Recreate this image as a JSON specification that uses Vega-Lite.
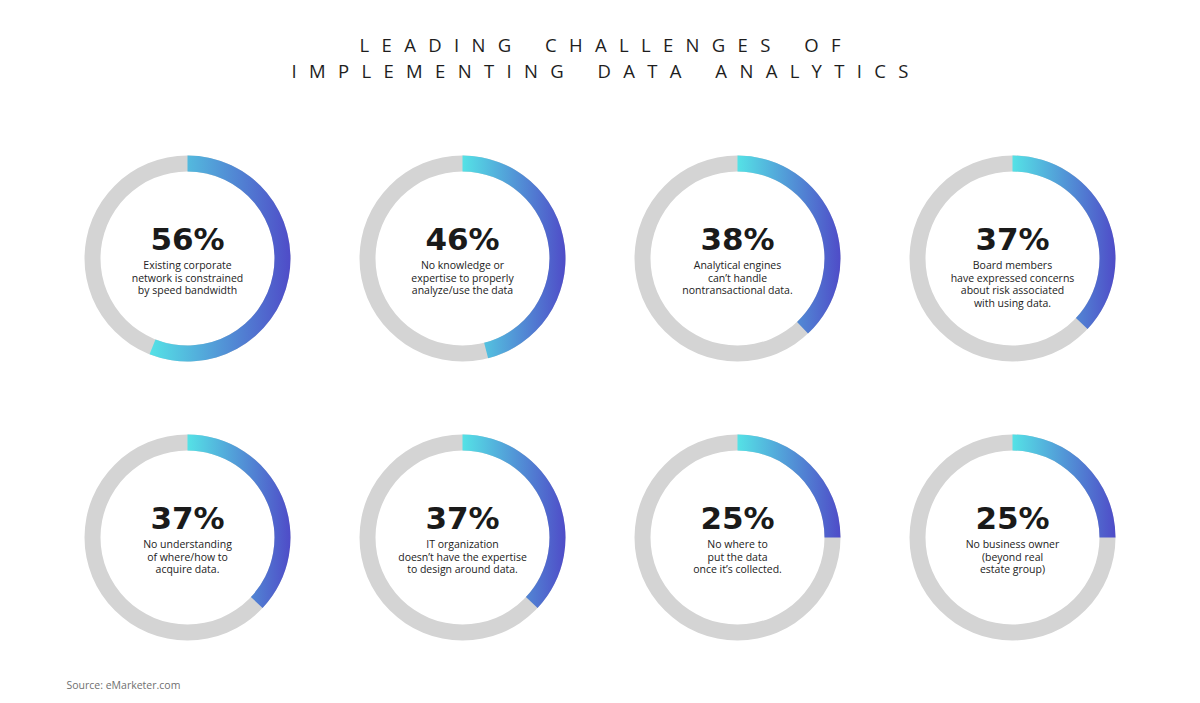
{
  "$schema": "https://vega.github.io/schema/vega-lite/v6.json",
  "width": 1200,
  "height": 613,
  "autosize": {"type": "none"},
  "padding": {"top": 90, "left": 0, "right": 0, "bottom": 0},
  "background": "white",
  "config": {"view": {"stroke": null}},
  "title": {
    "text": [
      "L\u2002\u2009E\u2002\u2009A\u2002\u2009D\u2002\u2009I\u2002\u2009N\u2002\u2009G\u2002\u2009\u2003\u2009C\u2002\u2009H\u2002\u2009A\u2002\u2009L\u2002\u2009L\u2002\u2009E\u2002\u2009N\u2002\u2009G\u2002\u2009E\u2002\u2009S\u2002\u2009\u2003\u2009O\u2002\u2009F",
      "I\u2002\u2009M\u2002\u2009P\u2002\u2009L\u2002\u2009E\u2002\u2009M\u2002\u2009E\u2002\u2009N\u2002\u2009T\u2002\u2009I\u2002\u2009N\u2002\u2009G\u2002\u2009\u2003\u2009D\u2002\u2009A\u2002\u2009T\u2002\u2009A\u2002\u2009\u2003\u2009A\u2002\u2009N\u2002\u2009A\u2002\u2009L\u2002\u2009Y\u2002\u2009T\u2002\u2009I\u2002\u2009C\u2002\u2009S"
    ],
    "anchor": "middle",
    "frame": "group",
    "font": "Open Sans",
    "fontSize": 18.5,
    "fontWeight": "normal",
    "color": "#1e1e1e",
    "lineHeight": 25.5,
    "offset": 9
  },
  "datasets": {
    "challenges": [
      {"col": 0, "row": 0, "share": 0.56, "label": ["Existing corporate", "network is constrained", "by speed bandwidth"]},
      {"col": 1, "row": 0, "share": 0.46, "label": ["No knowledge or", "expertise to properly", "analyze/use the data"]},
      {"col": 2, "row": 0, "share": 0.38, "label": ["Analytical engines", "can\u2019t handle", "nontransactional data."]},
      {"col": 3, "row": 0, "share": 0.37, "label": ["Board members", "have expressed concerns", "about risk associated", "with using data."]},
      {"col": 0, "row": 1, "share": 0.37, "label": ["No understanding", "of where/how to", "acquire data."]},
      {"col": 1, "row": 1, "share": 0.37, "label": ["IT organization", "doesn\u2019t have the expertise", "to design around data."]},
      {"col": 2, "row": 1, "share": 0.25, "label": ["No where to", "put the data", "once it\u2019s collected."]},
      {"col": 3, "row": 1, "share": 0.25, "label": ["No business owner", "(beyond real", "estate group)"]}
    ]
  },
  "data": {"name": "challenges"},
  "encoding": {
    "x": {
      "field": "col",
      "type": "quantitative",
      "scale": {"domain": [0, 3], "range": [187.5, 1012.5], "nice": false, "zero": false},
      "axis": {
        "orient": "bottom",
        "domain": false,
        "ticks": false,
        "labels": false,
        "grid": false,
        "title": "Source: eMarketer.com",
        "titleAnchor": "start",
        "titleAlign": "left",
        "titleBaseline": "middle",
        "titleX": 66,
        "titleY": -18,
        "titleFont": "Open Sans",
        "titleFontSize": 10.5,
        "titleFontWeight": "normal",
        "titleColor": "#707070"
      }
    },
    "y": {"field": "row", "type": "quantitative", "scale": {"domain": [0, 1], "range": [168.5, 447.5], "nice": false, "zero": false}, "axis": null}
  },
  "layer": [
    {
      "mark": {"type": "arc", "theta": 0, "theta2": 6.2832, "radius": 103, "radius2": 87, "color": "#d4d4d4"}
    },
    {
      "mark": {
        "type": "arc",
        "radius": 103,
        "radius2": 87,
        "color": {
          "gradient": "linear",
          "x1": 0, "y1": 0, "x2": 1, "y2": 0,
          "stops": [
            {"offset": 0, "color": "#55e2e6"},
            {"offset": 1, "color": "#4f4cc8"}
          ]
        }
      },
      "encoding": {
        "theta": {"field": "share", "type": "quantitative", "stack": null, "scale": {"domain": [0, 1], "range": [0, 6.2832]}},
        "theta2": {"datum": 0}
      }
    },
    {
      "mark": {"type": "text", "font": "DejaVu Sans", "fontSize": 31, "fontWeight": "bold", "baseline": "alphabetic", "align": "center", "dy": -9, "color": "#1a1a1a"},
      "encoding": {"text": {"field": "share", "type": "quantitative", "format": ".0%"}}
    },
    {
      "mark": {"type": "text", "font": "Open Sans", "fontSize": 10.5, "baseline": "alphabetic", "align": "center", "dy": 10.5, "lineHeight": 12.5, "color": "#222222"},
      "encoding": {"text": {"field": "label", "type": "nominal"}}
    }
  ]
}
